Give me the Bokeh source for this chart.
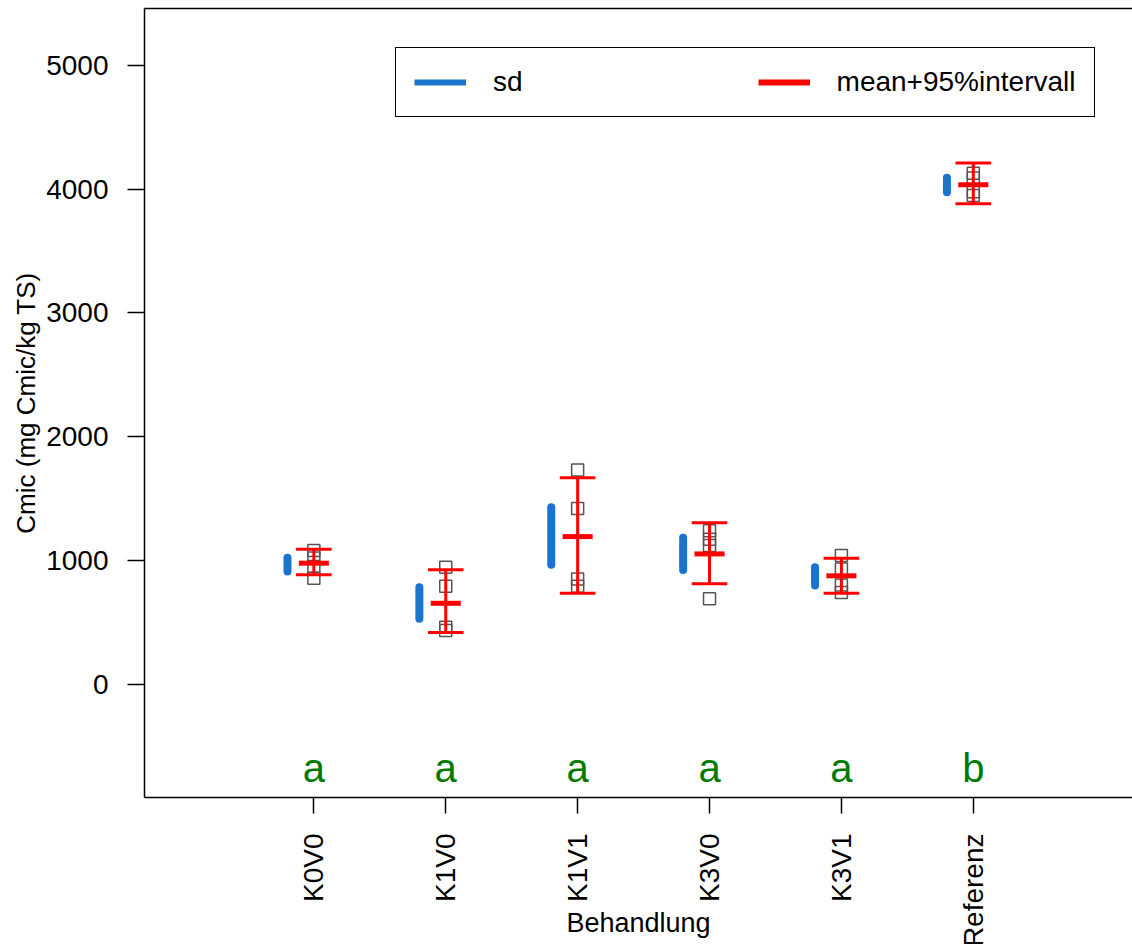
import math
from bokeh.plotting import figure
from bokeh.models import (FixedTicker, LinearAxis, Legend, LegendItem, Range1d,
                          ColumnDataSource)
from bokeh.core.properties import value
from bokeh.embed import file_html
from bokeh.resources import INLINE

# ---- data ----
categories = ["K0V0", "K1V0", "K1V1", "K3V0", "K3V1", "Referenz"]
means = [977, 653, 1192, 1052, 875, 4036]
ci_low = [883, 416, 734, 810, 734, 3882]
ci_high = [1090, 925, 1667, 1303, 1017, 4213]
sd_low = [910, 527, 964, 923, 796, 3976]
sd_high = [1021, 783, 1429, 1182, 944, 4092]
obs_K0V0 = [1080, 1020, 950, 855]
obs_K1V0 = [944, 791, 459, 432]
obs_K1V1 = [1730, 1420, 850, 790]
obs_K3V0 = [1240, 1170, 1120, 690]
obs_K3V1 = [1040, 930, 800, 740]
obs_Referenz = [4130, 4090, 3980, 3950]
letters = ["a", "a", "a", "a", "a", "b"]
y_ticks = [0, 1000, 2000, 3000, 4000, 5000]

FONT = "Liberation Sans"
BLUE = "#1874CD"
RED = "#FF0000"
GREEN = "#007A00"

pos = [i + 1 for i in range(len(categories))]
observations = [obs_K0V0, obs_K1V0, obs_K1V1, obs_K3V0, obs_K3V1, obs_Referenz]

p = figure(width=1132, height=944,
           x_range=Range1d(-0.284, 7.207), y_range=Range1d(-917, 5461),
           output_backend="svg", toolbar_location=None,
           min_border_left=144, min_border_right=0, min_border_top=8,
           min_border_bottom=147)
p.xgrid.grid_line_color = None
p.ygrid.grid_line_color = None
p.outline_line_color = None
p.background_fill_color = "white"
p.border_fill_color = "white"

# observations (open squares)
px, py = [], []
for x, obs in zip(pos, observations):
    for v in obs:
        px.append(x)
        py.append(v)
p.scatter(px, py, marker="square", size=12, fill_color=None,
          line_color="#555555", line_width=1.5)

# sd bars (blue)
sd_src = ColumnDataSource(dict(x=[x - 0.2 for x in pos], lo=sd_low, hi=sd_high))
p.segment(x0="x", y0="lo", x1="x", y1="hi", source=sd_src,
          line_color=BLUE, line_width=8, line_cap="round")

# mean + 95% interval (red)
ci_src = ColumnDataSource(dict(x=pos, lo=ci_low, hi=ci_high, m=means,
                               xl=[x - 0.135 for x in pos],
                               xr=[x + 0.135 for x in pos],
                               ml=[x - 0.114 for x in pos],
                               mr=[x + 0.114 for x in pos]))
p.segment(x0="x", y0="lo", x1="x", y1="hi", source=ci_src,
          line_color=RED, line_width=3)
p.segment(x0="xl", y0="lo", x1="xr", y1="lo", source=ci_src,
          line_color=RED, line_width=3)
p.segment(x0="xl", y0="hi", x1="xr", y1="hi", source=ci_src,
          line_color=RED, line_width=3)
p.segment(x0="ml", y0="m", x1="mr", y1="m", source=ci_src,
          line_color=RED, line_width=5)

# significance letters
p.text(x=pos, y=[-675] * len(pos), text=letters, text_font=value(FONT),
       text_font_size="40px", text_align="center",
       text_baseline="alphabetic", text_color=GREEN)

# axes
xa = p.xaxis[0]
xa.ticker = FixedTicker(ticks=pos)
xa.major_label_overrides = {x: c for x, c in zip(pos, categories)}
xa.major_label_orientation = math.pi / 2
xa.axis_label = "Behandlung"
ya = p.yaxis[0]
ya.ticker = FixedTicker(ticks=y_ticks)
ya.axis_label = "Cmic (mg Cmic/kg TS)"
for ax in (xa, ya):
    ax.major_label_text_font = FONT
    ax.major_label_text_font_size = "28px"
    ax.major_label_text_color = "black"
    ax.axis_label_text_font = FONT
    ax.axis_label_text_font_style = "normal"
    ax.axis_label_text_color = "black"
    ax.axis_line_color = "black"
    ax.axis_line_width = 1.5
    ax.major_tick_line_color = "black"
    ax.major_tick_line_width = 1.5
    ax.major_tick_in = 0
    ax.minor_tick_line_color = None
xa.major_tick_out = 16
xa.major_label_standoff = 20
xa.axis_label_text_font_size = "27px"
xa.axis_label_standoff = -42
ya.major_tick_out = 17
ya.major_label_standoff = 19
ya.axis_label_text_font_size = "26px"
ya.axis_label_standoff = 2

top_axis = LinearAxis(ticker=FixedTicker(ticks=[]), major_tick_out=0,
                      major_tick_in=0, major_label_text_font_size="0px",
                      major_label_standoff=0, axis_line_color="black",
                      axis_line_width=1.5, minor_tick_line_color=None)
p.add_layout(top_axis, "above")

# legend (single-point lines draw nothing in the plot, only the legend glyph)
r_sd = p.line(x=[pos[0]], y=[means[0]], line_color=BLUE, line_width=6)
r_ci = p.line(x=[pos[0]], y=[means[0]], line_color=RED, line_width=6)
legend = Legend(items=[LegendItem(label="sd", renderers=[r_sd]),
                       LegendItem(label="mean+95%intervall", renderers=[r_ci])],
                orientation="horizontal", location=(251, 680), margin=0,
                padding=18, spacing=235, glyph_width=52, glyph_height=20,
                label_standoff=27, label_text_font=FONT,
                label_text_font_size="28px", label_text_color="black",
                border_line_color="black", border_line_width=1.5,
                border_line_alpha=1.0,
                background_fill_color="white", background_fill_alpha=1.0)
p.add_layout(legend)

open("out.html", "w").write(file_html(p, INLINE))
